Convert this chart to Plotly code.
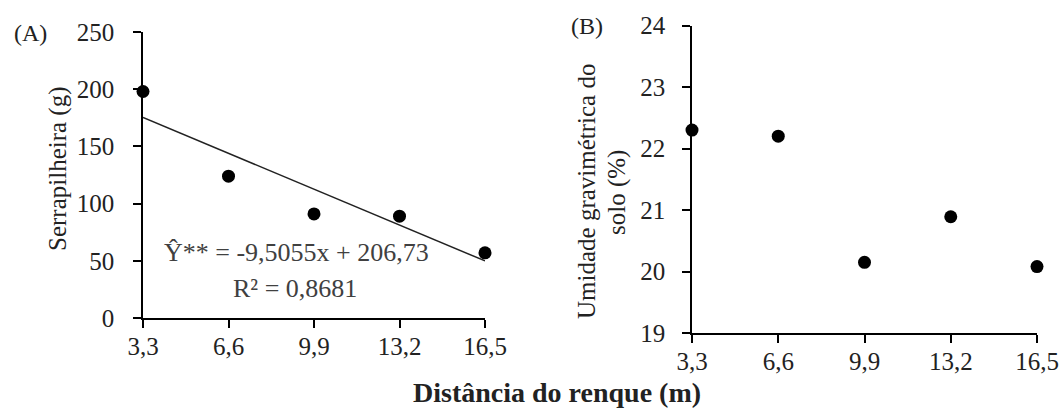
import plotly.graph_objects as go

dist = [3.3, 6.6, 9.9, 13.2, 16.5]
dist_labels = ["3,3", "6,6", "9,9", "13,2", "16,5"]
serrapilheira = [198, 124, 91, 89, 57]
umidade = [22.3, 22.2, 20.15, 20.89, 20.08]
slope, intercept = -9.5055, 206.73
fit_x = [3.3, 16.5]
fit_y = [slope * v + intercept for v in fit_x]

W, H = 1062, 412
FONT = "Liberation Serif, Times New Roman, serif"

def px(x):
    return x / W

def py(y):
    return 1 - y / H

fig = go.Figure()
fig.add_trace(go.Scatter(x=dist, y=serrapilheira, mode="markers",
                         marker=dict(size=13, color="black"), xaxis="x", yaxis="y",
                         cliponaxis=False, showlegend=False))
fig.add_trace(go.Scatter(x=fit_x, y=fit_y, mode="lines",
                         line=dict(color="#222222", width=1.5), xaxis="x", yaxis="y",
                         showlegend=False))
fig.add_trace(go.Scatter(x=dist, y=umidade, mode="markers",
                         marker=dict(size=13, color="black"), xaxis="x2", yaxis="y2",
                         cliponaxis=False, showlegend=False))

axis_common = dict(showline=True, linecolor="black", linewidth=1.5, ticks="outside",
                   ticklen=8, tickwidth=1.5, tickcolor="black", showgrid=False,
                   zeroline=False, automargin=False,
                   tickfont=dict(family=FONT, size=25, color="#222"))

fig.update_layout(
    width=W, height=H, margin=dict(l=0, r=0, t=0, b=0, autoexpand=False),
    paper_bgcolor="white", plot_bgcolor="white",
    xaxis=dict(domain=[px(143), px(485)], range=[3.3, 16.5], anchor="y",
               tickvals=dist, ticktext=dist_labels, ticklabelstandoff=-3, **axis_common),
    yaxis=dict(domain=[py(318), py(32)], range=[0, 250], anchor="x",
               tickvals=[0, 50, 100, 150, 200, 250], ticklabelstandoff=14, **axis_common),
    xaxis2=dict(domain=[px(692), px(1037)], range=[3.3, 16.5], anchor="y2",
                tickvals=dist, ticktext=dist_labels, ticklabelstandoff=-3, **axis_common),
    yaxis2=dict(domain=[py(333), py(25.5)], range=[19, 24], anchor="x2",
                tickvals=[19, 20, 21, 22, 23, 24], ticklabelstandoff=12, **axis_common),
)

ann = [
    dict(text="(A)", x=px(30), y=py(33), size=24),
    dict(text="(B)", x=px(587), y=py(26), size=24),
    dict(text="Ŷ** = -9,5055x + 206,73", x=px(296), y=py(253), size=26, color="#404040"),
    dict(text="R² = 0,8681", x=px(295), y=py(288), size=26, color="#404040"),
    dict(text="<b>Distância do renque (m)</b>", x=px(557), y=py(392), size=28),
    dict(text="Serrapilheira (g)", x=px(58), y=py(169), size=25, angle=-90),
    dict(text="Umidade gravimétrica do", x=px(586), y=py(192), size=25, angle=-90),
    dict(text="solo (%)", x=px(617), y=py(193), size=25, angle=-90),
]
for a in ann:
    fig.add_annotation(text=a["text"], x=a["x"], y=a["y"], xref="paper", yref="paper",
                       showarrow=False, xanchor="center", yanchor="middle",
                       textangle=a.get("angle", 0),
                       font=dict(family=FONT, size=a["size"], color=a.get("color", "#222")))

fig.write_html("out.html", config={"displayModeBar": False},
               post_script="document.body.style.margin='0';")
